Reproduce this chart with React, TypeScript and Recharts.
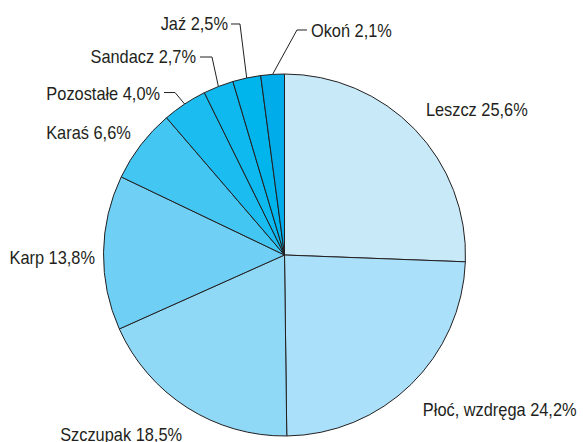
import React from 'react';
import { PieChart, Pie, Cell } from 'recharts';

const names = ['Leszcz', 'Płoć, wzdręga', 'Szczupak', 'Karp', 'Karaś', 'Pozostałe', 'Sandacz', 'Jaź', 'Okoń'];
const shares = [25.6, 24.2, 18.5, 13.8, 6.6, 4.0, 2.7, 2.5, 2.1];
const colors = ['#c7e9f8', '#aae0f9', '#8fd8f6', '#6fcff4', '#44c6f2', '#1bbdf0', '#0db9ee', '#00b5eb', '#00acea'];

const data = names.map((name, i) => ({ name, value: shares[i] }));

// label placement relative to the point on the rim at the slice's middle
// line: [elbow, end] offsets, text: offset + anchor
const labelLayout: Record<string, { tx: number; ty: number; anchor: 'start' | 'end'; line?: number[][] }> = {
    'Leszcz': { tx: 11, ty: -13, anchor: 'start' },
    'Płoć, wzdręga': { tx: 12, ty: 31, anchor: 'start' },
    'Szczupak': { tx: -5, ty: 33, anchor: 'end' },
    'Karp': { tx: -8.5, ty: 11, anchor: 'end' },
    'Karaś': { tx: -10, ty: -6, anchor: 'end' },
    'Pozostałe': { tx: -24.6, ty: -4, anchor: 'end', line: [[-9.6, -11.5], [-20.6, -11.5]] },
    'Sandacz': { tx: -22.4, ty: -23.5, anchor: 'end', line: [[-6.4, -29.5], [-18.4, -29.5]] },
    'Jaź': { tx: -18.7, ty: -48, anchor: 'end', line: [[-6.7, -54], [-15.7, -54]] },
    'Okoń': { tx: 38.4, ty: -37.4, anchor: 'start', line: [[24.4, -44.4], [34.4, -44.4]] },
};

const RAD = Math.PI / 180;
const fmt = (v: number) => v.toFixed(1).replace('.', ',') + '%';

const renderLabel = (props: any) => {
    const { cx, cy, midAngle, outerRadius, name, value } = props;
    const x0 = cx + outerRadius * Math.cos(-midAngle * RAD);
    const y0 = cy + outerRadius * Math.sin(-midAngle * RAD);
    const l = labelLayout[name];
    if (!l) return null;
    return (
        <g>
            {l.line && (
                <polyline
                    points={`${x0},${y0} ${x0 + l.line[0][0]},${y0 + l.line[0][1]} ${x0 + l.line[1][0]},${y0 + l.line[1][1]}`}
                    fill="none"
                    stroke="#231f20"
                    strokeWidth={1}
                />
            )}
            {/* condensed look: squeeze the text horizontally */}
            <text
                x={0}
                y={0}
                transform={`translate(${x0 + l.tx},${y0 + l.ty}) scale(0.91,1)`}
                textAnchor={l.anchor}
                fill="#231f20"
                fontSize={18}
                fontFamily="'Liberation Sans', Arial, sans-serif"
            >
                {`${name} ${fmt(value)}`}
            </text>
        </g>
    );
};

export default function App() {
    return (
        <div style={{ position: 'absolute', left: 0, top: 0, width: 583, height: 442, background: '#fff' }}>
            <PieChart width={583} height={442} margin={{ top: 0, right: 0, bottom: 0, left: 0 }}>
                <Pie
                    data={data}
                    dataKey="value"
                    nameKey="name"
                    cx={284.5}
                    cy={255}
                    outerRadius={181}
                    startAngle={90}
                    endAngle={-270}
                    stroke="#231f20"
                    strokeWidth={1}
                    label={renderLabel}
                    labelLine={false}
                    isAnimationActive={false}
                >
                    {data.map((d, i) => (
                        <Cell key={d.name} fill={colors[i]} />
                    ))}
                </Pie>
            </PieChart>
        </div>
    );
}
